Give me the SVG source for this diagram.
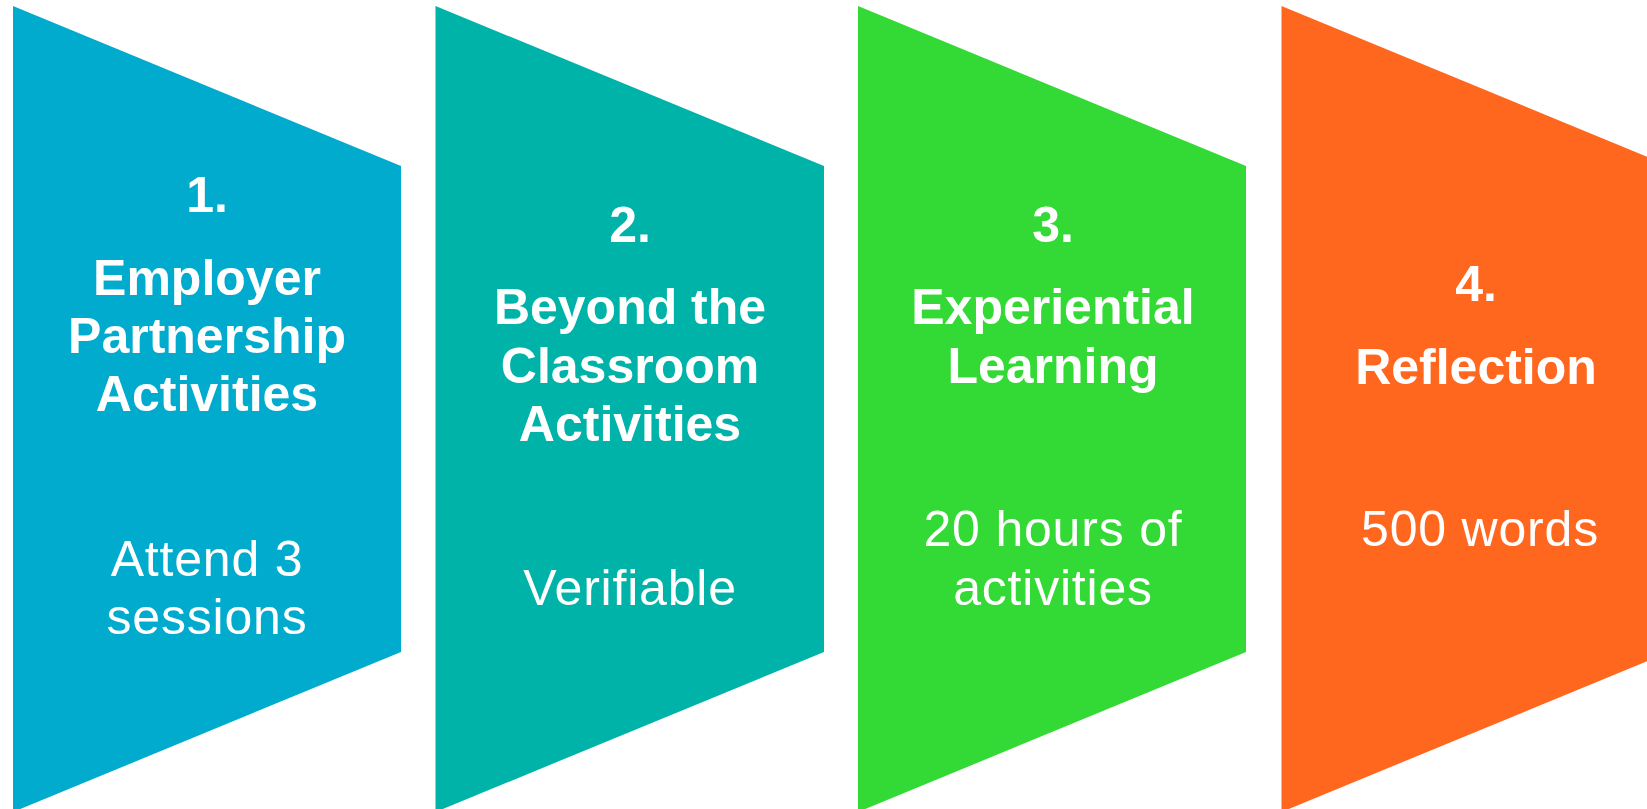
<svg xmlns="http://www.w3.org/2000/svg" width="1647" height="809" viewBox="0 0 1647 809">
<style>
.t{font-family:"Liberation Sans",Arial,sans-serif;fill:#ffffff;text-anchor:middle;font-size:50px}
.b{font-weight:bold}
.r{letter-spacing:0.8px}
</style>
<rect width="1647" height="809" fill="#ffffff"/>
<g id="node1">
<polygon points="13,6 401,166 401,652 13,812" fill="#00ABCD"/>
<text class="t b" x="207" y="212">1.</text>
<text class="t b" x="207" y="295">Employer</text>
<text class="t b" x="207" y="353">Partnership</text>
<text class="t b" x="207" y="411">Activities</text>
<text class="t r" x="207" y="576">Attend 3</text>
<text class="t r" x="207" y="634">sessions</text>
</g>
<g id="node2">
<polygon points="435.5,6 824,166 824,652 435.5,812" fill="#00B3A9"/>
<text class="t b" x="630" y="242">2.</text>
<text class="t b" x="630" y="324">Beyond the</text>
<text class="t b" x="630" y="383">Classroom</text>
<text class="t b" x="630" y="441">Activities</text>
<text class="t r" x="630" y="605">Verifiable</text>
</g>
<g id="node3">
<polygon points="858,6 1246,166 1246,652 858,812" fill="#33D934"/>
<text class="t b" x="1053" y="242">3.</text>
<text class="t b" x="1053" y="324">Experiential</text>
<text class="t b" x="1053" y="383">Learning</text>
<text class="t r" x="1053" y="546">20 hours of</text>
<text class="t r" x="1053" y="605">activities</text>
</g>
<g id="node4">
<polygon points="1281.5,6 1669.5,166 1669.5,652 1281.5,812" fill="#FF671F"/>
<text class="t b" x="1476" y="301">4.</text>
<text class="t b" x="1476" y="384">Reflection</text>
<text class="t r" x="1480" y="546">500 words</text>
</g>
<g id="connectors"></g>
</svg>
